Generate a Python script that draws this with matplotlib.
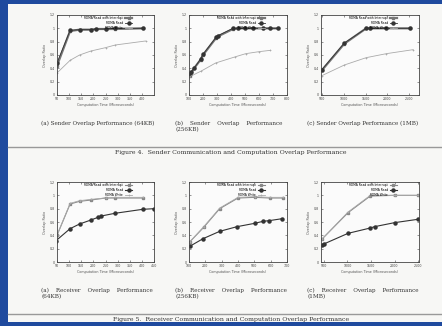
import numpy as np
import matplotlib
matplotlib.use('Agg')
import matplotlib.pyplot as plt
from matplotlib.patches import Rectangle
from matplotlib.ticker import FuncFormatter

# ---- data ----
series_names = ['RDMA Read with Interrupt', 'RDMA Read', 'RDMA Write']

# Figure 4: sender side
snd64_x_rd = [50, 104, 143, 190, 212, 250, 290, 405]
snd64_y_int = [0.44, 0.96, 0.98, 0.98, 0.99, 0.99, 0.99, 1.0]
snd64_y_rd = [0.48, 0.97, 0.98, 0.98, 0.99, 0.99, 1.0, 1.0]
snd64_x_wr = [50, 104, 143, 190, 250, 290, 415]
snd64_y_wr = [0.33, 0.52, 0.60, 0.66, 0.71, 0.75, 0.81]

snd256_x_rd = [105, 117, 136, 183, 200, 295, 307, 414, 450, 498, 557, 629, 681, 738]
snd256_y_int = [0.29, 0.34, 0.40, 0.53, 0.60, 0.86, 0.88, 0.99, 1.0, 1.0, 1.0, 1.0, 1.0, 1.0]
snd256_y_rd = [0.31, 0.35, 0.40, 0.54, 0.61, 0.87, 0.89, 1.0, 1.0, 1.0, 1.0, 1.0, 1.0, 1.0]
snd256_x_wr = [100, 188, 290, 426, 505, 600, 681]
snd256_y_wr = [0.27, 0.36, 0.48, 0.57, 0.62, 0.65, 0.67]

snd1m_x_rd = [500, 1015, 1515, 1600, 1980, 2515]
snd1m_y_int = [0.37, 0.77, 1.0, 1.0, 1.0, 1.0]
snd1m_y_rd = [0.38, 0.78, 1.0, 1.0, 1.0, 1.0]
snd1m_x_wr = [500, 1015, 1515, 1977, 2590]
snd1m_y_wr = [0.29, 0.45, 0.56, 0.62, 0.68]

# Figure 5: receiver side
rcv64_x_up = [50, 104, 143, 190, 250, 290, 405]
rcv64_y_int = [0.40, 0.87, 0.91, 0.93, 0.96, 0.96, 0.96]
rcv64_y_wr = [0.40, 0.88, 0.92, 0.94, 0.96, 0.97, 0.97]
rcv64_x_rd = [46, 104, 143, 190, 219, 233, 288, 403, 450]
rcv64_y_rd = [0.32, 0.50, 0.57, 0.63, 0.67, 0.69, 0.73, 0.79, 0.80]

rcv256_x_up = [104, 190, 288, 400, 502, 594, 676]
rcv256_y_int = [0.30, 0.52, 0.80, 0.96, 0.97, 0.96, 0.96]
rcv256_y_wr = [0.30, 0.53, 0.81, 0.97, 0.98, 0.97, 0.97]
rcv256_x_rd = [108, 186, 288, 394, 502, 553, 590, 671]
rcv256_y_rd = [0.24, 0.35, 0.46, 0.53, 0.58, 0.61, 0.62, 0.65]

rcv1m_x_up = [470, 1014, 1486, 2000, 2500]
rcv1m_y_int = [0.35, 0.74, 0.99, 1.0, 1.0]
rcv1m_y_wr = [0.35, 0.75, 1.0, 1.0, 1.0]
rcv1m_x_rd = [470, 500, 1014, 1486, 1577, 2000, 2493]
rcv1m_y_rd = [0.26, 0.27, 0.43, 0.51, 0.53, 0.59, 0.64]

x_ticks = {'64': [50, 100, 150, 200, 250, 300, 350, 400, 450],
           '256s': [100, 200, 300, 400, 500, 600, 700, 800],
           '256r': [100, 200, 300, 400, 500, 600, 700],
           '1m': [500, 1000, 1500, 2000, 2500]}
y_ticks = [0, 0.2, 0.4, 0.6, 0.8, 1.0, 1.2]

snd_captions = ['(a) Sender Overlap Performance (64KB)',
                '(b)    Sender    Overlap    Performance\n(256KB)',
                '(c) Sender Overlap Performance (1MB)']
rcv_captions = ['(a)    Receiver    Overlap    Performance\n(64KB)',
                '(b)    Receiver    Overlap    Performance\n(256KB)',
                '(c)    Receiver    Overlap    Performance\n(1MB)']
fig4_caption = 'Figure 4.  Sender Communication and Computation Overlap Performance'
fig5_caption = 'Figure 5.  Receiver Communication and Computation Overlap Performance'

W, H = 442, 326
fig = plt.figure(figsize=(W / 100, H / 100), dpi=100)
fig.patch.set_facecolor('#1f4a9e')
fig.patches.append(Rectangle((8 / W, 1 - 322 / H), 434 / W, 318 / H,
                             transform=fig.transFigure, facecolor='#f7f7f5',
                             edgecolor='none', zorder=-10))


def px(x, y, w, h):
    return [x / W, 1 - (y + h) / H, w / W, h / H]


def setup(ax, xlim, ticks):
    ax.set_xlim(*xlim)
    ax.set_ylim(0, 1.2)
    ax.set_xticks(ticks)
    ax.set_yticks(y_ticks)
    ax.yaxis.set_major_formatter(FuncFormatter(lambda v, p: '%g' % v))
    ax.tick_params(direction='in', top=True, right=True, length=1.5,
                   width=0.4, labelsize=2.3, pad=1.5, colors='#444')
    for s in ax.spines.values():
        s.set_linewidth(0.6)
        s.set_color('#444')
    ax.set_facecolor('#fbfbfb')
    ax.set_xlabel('Computation Time (Microseconds)', fontsize=2.4, labelpad=1.5, color='#555')
    ax.set_ylabel('Overlap Ratio', fontsize=2.4, labelpad=2, color='#555')


def draw(ax, xs_a, ya_int, ya_rd, xs_b, yb, receiver=False):
    if not receiver:
        ax.plot(xs_a, ya_int, color='#777', lw=1.6, marker='s', ms=1.6, label=series_names[0])
        ax.plot(xs_a, ya_rd, color='#333', lw=0.6, marker='o', ms=2.2, label=series_names[1])
        ax.plot(xs_b, yb, color='#aaa', lw=0.6, marker='+', ms=2, mew=0.5, label=series_names[2])
    else:
        ax.plot(xs_a, ya_int, color='#888', lw=0.8, marker='s', ms=1.5, label=series_names[0])
        ax.plot(xs_b, yb, color='#333', lw=0.8, marker='o', ms=2.2, label=series_names[1])
        ax.plot(xs_a, ya_rd, color='#aaa', lw=0.6, marker='+', ms=2, mew=0.5, label=series_names[2])
    ax.legend(loc='upper right', bbox_to_anchor=(0.8, 1.01), frameon=False, fontsize=2.2,
              markerfirst=False, handlelength=2.5, labelspacing=0.3, borderpad=0.2,
              handletextpad=0.6)


lefts = [57, 189, 321]

ax = fig.add_axes(px(lefts[0], 15, 97, 80))
setup(ax, (50, 450), x_ticks['64'][:-1])
draw(ax, snd64_x_rd, snd64_y_int, snd64_y_rd, snd64_x_wr, snd64_y_wr)
ax = fig.add_axes(px(lefts[1], 15, 98, 80))
setup(ax, (100, 800), x_ticks['256s'])
draw(ax, snd256_x_rd, snd256_y_int, snd256_y_rd, snd256_x_wr, snd256_y_wr)
ax = fig.add_axes(px(lefts[2], 15, 98, 80))
setup(ax, (480, 2725), x_ticks['1m'])
draw(ax, snd1m_x_rd, snd1m_y_int, snd1m_y_rd, snd1m_x_wr, snd1m_y_wr)

ax = fig.add_axes(px(lefts[0], 182, 97, 80))
setup(ax, (50, 450), x_ticks['64'])
draw(ax, rcv64_x_up, rcv64_y_int, rcv64_y_wr, rcv64_x_rd, rcv64_y_rd, receiver=True)
ax = fig.add_axes(px(lefts[1], 182, 98, 80))
setup(ax, (100, 700), x_ticks['256r'])
draw(ax, rcv256_x_up, rcv256_y_int, rcv256_y_wr, rcv256_x_rd, rcv256_y_rd, receiver=True)
ax = fig.add_axes(px(lefts[2], 182, 98, 80))
setup(ax, (440, 2520), x_ticks['1m'])
draw(ax, rcv1m_x_up, rcv1m_y_int, rcv1m_y_wr, rcv1m_x_rd, rcv1m_y_rd, receiver=True)

cap_x = [41, 175, 307]
for i in range(3):
    fig.text(cap_x[i] / W, 1 - 121 / H, snd_captions[i], fontsize=4.1, family='DejaVu Serif',
             va='top', ha='left', color='#333', linespacing=1.2)
    fig.text(cap_x[i] / W, 1 - 288 / H, rcv_captions[i], fontsize=4.1, family='DejaVu Serif',
             va='top', ha='left', color='#333', linespacing=1.2)

fig.add_artist(plt.Line2D([8 / W, 1], [1 - 147 / H] * 2, transform=fig.transFigure,
                          color='#999', lw=1.0))
fig.add_artist(plt.Line2D([8 / W, 1], [1 - 314 / H] * 2, transform=fig.transFigure,
                          color='#999', lw=1.0))
fig.text(231 / W, 1 - 153 / H, fig4_caption, fontsize=4.5, family='DejaVu Serif',
         ha='center', va='center', color='#333')
fig.text(231 / W, 1 - 320 / H, fig5_caption, fontsize=4.5, family='DejaVu Serif',
         ha='center', va='center', color='#333')

fig.savefig('out.png', dpi=100, facecolor=fig.get_facecolor())
